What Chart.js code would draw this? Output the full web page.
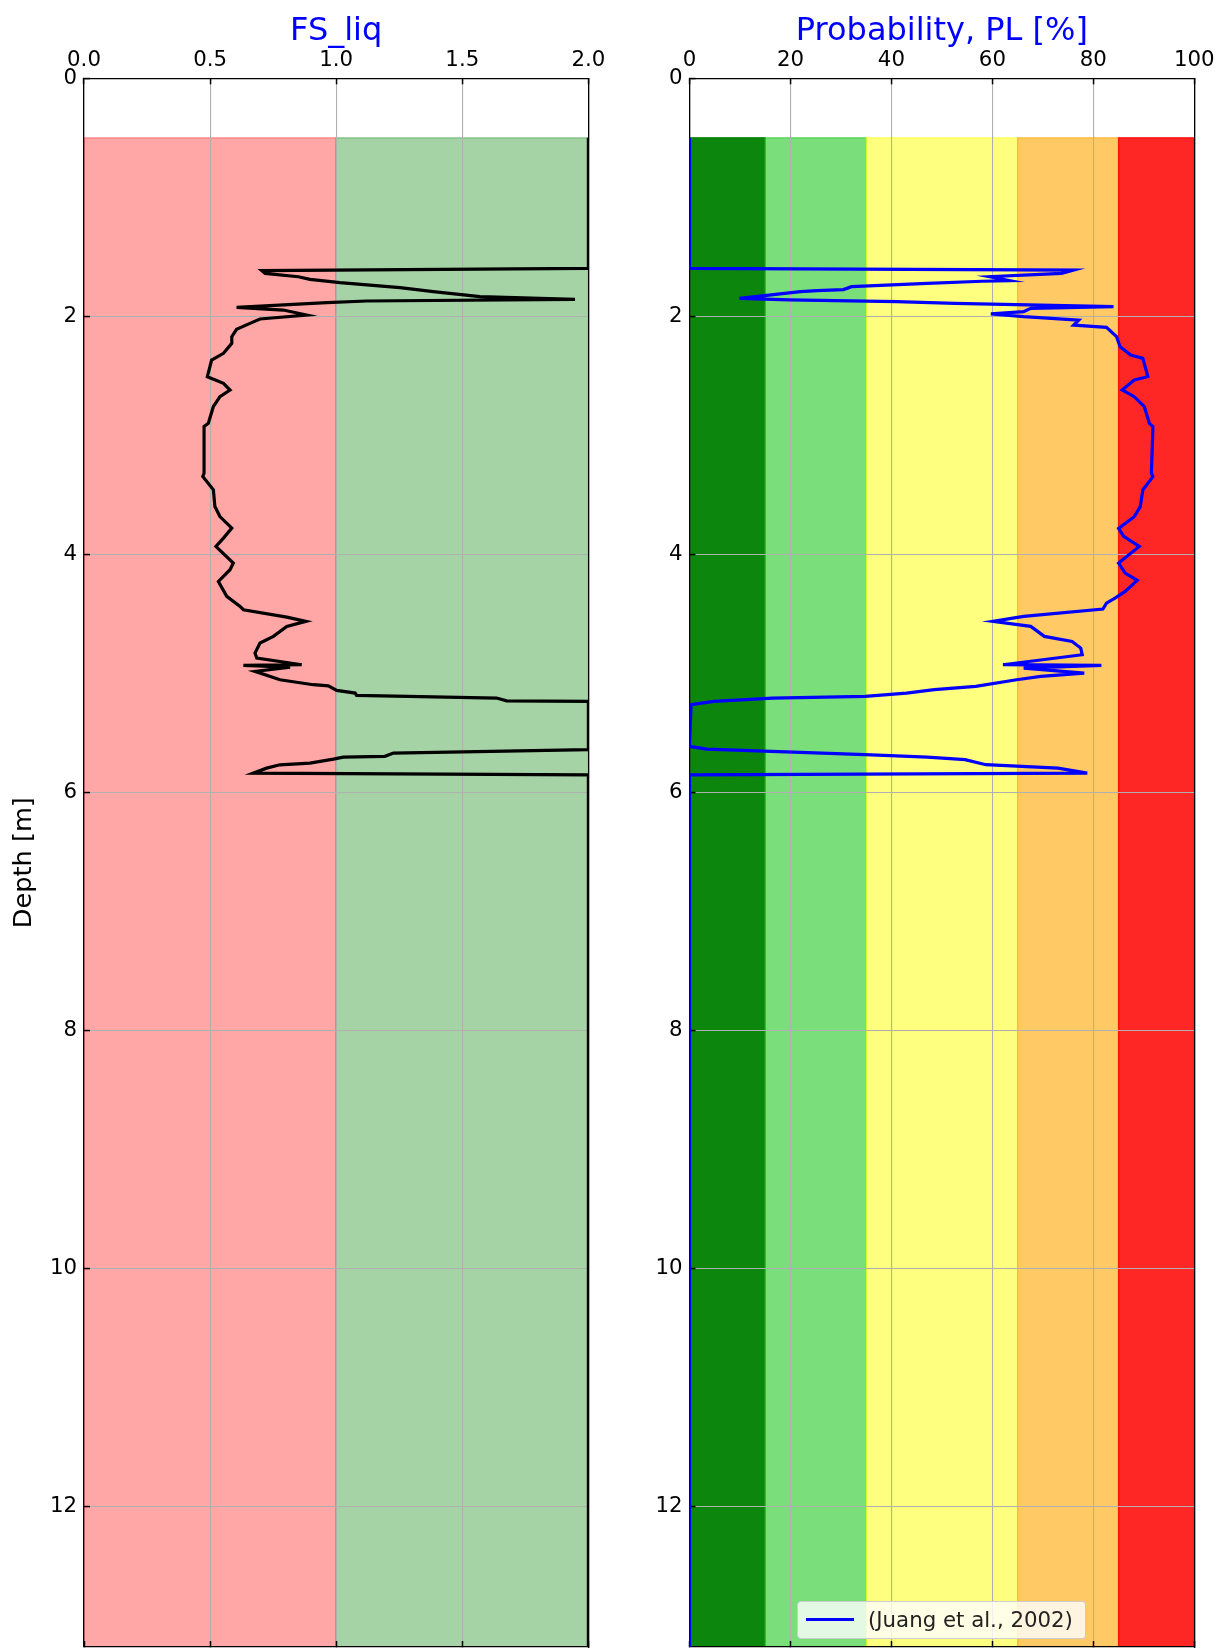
<!DOCTYPE html>
<html>
<head>
<meta charset="utf-8">
<title>FS_liq and PL</title>
<script src="https://cdn.jsdelivr.net/npm/chart.js@4.4.0/dist/chart.umd.min.js"></script>
<style>
  html, body { margin: 0; padding: 0; background: #fff; }
  #wrap { position: relative; width: 1220px; height: 1648px; overflow: hidden; }
  #fsChart { position: absolute; left: 0; top: 0; }
  #plChart { position: absolute; left: 620px; top: 0; }
  .legend {
    position: absolute; left: 797px; top: 1601px; width: 287px; height: 36px;
    background: rgba(255,255,255,0.8); border: 1px solid #cccccc; border-radius: 4px;
    font-family: "DejaVu Sans", sans-serif; font-size: 21.3px; color: #222;
  }
  .legend .handle { position: absolute; left: 8px; top: 16px; width: 48px; height: 3px; background: #0000ff; }
  .legend .label { position: absolute; left: 70px; top: 5px; white-space: nowrap; }
</style>
</head>
<body>
<div id="wrap">
  <canvas id="fsChart" width="620" height="1648"></canvas>
  <canvas id="plChart" width="600" height="1648"></canvas>
  <div class="legend"><span class="handle"></span><span class="label">(Juang et al., 2002)</span></div>
</div>
<script>
// depth range of both panels
const depthMax = 13.18;
const bandTop = 0.5;

// colour zones
const fsBandEdges = [0, 1, 2];
const fsBandColors = ['rgba(255,0,0,0.35)', 'rgba(0,128,0,0.35)'];
const plBandEdges = [0, 15, 35, 65, 85, 100];
const plBandColors = ['rgba(0,128,0,0.95)', 'rgba(50,205,50,0.65)', 'rgba(255,255,0,0.5)',
                      'rgba(255,165,0,0.6)', 'rgba(255,0,0,0.85)'];

// FS_liq profile (depth in m)
const fsDepth = [0.5, 1.597, 1.616, 1.639, 1.667, 1.689, 1.717, 1.759, 1.793, 1.835, 1.857, 1.871,
  1.885, 1.924, 1.947, 1.989, 2.022, 2.059, 2.109, 2.171, 2.227, 2.311, 2.367, 2.507, 2.563, 2.619,
  2.675, 2.758, 2.898, 2.926, 3.318, 3.346, 3.458, 3.598, 3.682, 3.779, 3.863, 3.933, 4.073, 4.129,
  4.227, 4.353, 4.437, 4.465, 4.527, 4.563, 4.605, 4.689, 4.745, 4.829, 4.871, 4.927, 4.933, 4.947,
  4.983, 5.053, 5.095, 5.104, 5.143, 5.165, 5.185, 5.207, 5.230, 5.235, 5.641, 5.669, 5.697, 5.703,
  5.720, 5.754, 5.768, 5.796, 5.838, 5.852, 13.18];
const fsValues = [2.0, 2.0, 0.705, 0.718, 0.85, 0.896, 1.015, 1.253, 1.385, 1.570, 1.947, 1.121,
  0.962, 0.605, 0.79, 0.883, 0.698, 0.658, 0.605, 0.586, 0.586, 0.553, 0.506, 0.489, 0.553, 0.579,
  0.539, 0.513, 0.493, 0.476, 0.476, 0.471, 0.513, 0.519, 0.539, 0.586, 0.553, 0.523, 0.592, 0.579,
  0.533, 0.566, 0.619, 0.632, 0.804, 0.880, 0.804, 0.751, 0.698, 0.678, 0.685, 0.863, 0.632, 0.817,
  0.678, 0.777, 0.909, 0.969, 1.002, 1.075, 1.081, 1.636, 1.676, 2.0, 2.0, 1.227, 1.193, 1.028,
  0.989, 0.896, 0.777, 0.724, 0.671, 2.0, 2.0];

// probability of liquefaction profile
const plDepth = [0.5, 1.597, 1.611, 1.639, 1.667, 1.700, 1.705, 1.723, 1.751, 1.775, 1.784, 1.793,
  1.849, 1.862, 1.877, 1.891, 1.919, 1.933, 1.961, 1.980, 2.003, 2.031, 2.073, 2.092, 2.171, 2.255,
  2.325, 2.353, 2.507, 2.535, 2.619, 2.675, 2.759, 2.899, 2.927, 3.319, 3.347, 3.459, 3.599, 3.683,
  3.782, 3.849, 3.933, 4.073, 4.157, 4.218, 4.311, 4.367, 4.409, 4.459, 4.521, 4.563, 4.605, 4.689,
  4.731, 4.787, 4.843, 4.927, 4.933, 4.955, 4.997, 5.025, 5.053, 5.109, 5.137, 5.165, 5.193, 5.207,
  5.235, 5.263, 5.613, 5.636, 5.683, 5.703, 5.725, 5.767, 5.796, 5.838, 5.852, 13.18];
const plValues = [0, 0, 76.1, 73.7, 59.5, 63.5, 58.0, 47.1, 32.1, 30.5, 25.3, 22.0,
  9.9, 19.8, 41.0, 52.6, 84.0, 67.6, 66.2, 59.7, 66.2, 77.1, 76.1, 82.6, 84.6, 85.3,
  87.4, 89.8, 90.8, 88.1, 85.7, 88.1, 90.1, 91.1, 91.8, 91.5, 91.8, 89.8, 89.3, 88.1,
  85.0, 86.0, 89.1, 85.0, 86.3, 88.7, 86.3, 84.3, 82.6, 81.9, 66.2, 60.1, 67.6, 70.3,
  75.8, 77.5, 77.8, 62.1, 81.6, 66.2, 78.2, 69.6, 64.8, 56.7, 48.5, 43.0, 34.8, 16.4,
  4.8, 0.3, 0, 3.4, 34.8, 47.1, 54.6, 58.7, 73.0, 78.8, 0, 0];

const fsTicks = [0, 0.5, 1.0, 1.5, 2.0];
const plTicks = [0, 20, 40, 60, 80, 100];

const FONT = '"DejaVu Sans", sans-serif';
const tickFont = { family: FONT, size: 21.3 };
const TICK_IN = -6; // matplotlib style inward ticks

// axvspan-like zones, drawn before the grid so grid lines stay on top
const bandPlugin = {
  id: 'bands',
  beforeDraw(chart, args, opts) {
    const { ctx, chartArea, scales: { x, y } } = chart;
    ctx.save();
    ctx.beginPath();
    ctx.rect(chartArea.left, chartArea.top, chartArea.width, chartArea.height);
    ctx.clip();
    const top = y.getPixelForValue(opts.top);
    const bottom = y.getPixelForValue(y.max);
    opts.colors.forEach((c, i) => {
      const x0 = x.getPixelForValue(opts.edges[i]);
      const x1 = x.getPixelForValue(opts.edges[i + 1]);
      ctx.fillStyle = c;
      ctx.fillRect(x0, top, x1 - x0, bottom - top);
      ctx.strokeStyle = c;
      ctx.lineWidth = 1.3;
      ctx.strokeRect(x0, top, x1 - x0, bottom - top);
    });
    ctx.restore();
  }
};

function toPoints(xs, ys) {
  return xs.map((v, i) => ({ x: v, y: ys[i] }));
}

function noPad(s) {
  s.paddingTop = 0; s.paddingBottom = 0; s.paddingLeft = 0; s.paddingRight = 0;
}

function buildOptions(cfg) {
  const xMin = cfg.xTicks[0];
  const xMax = cfg.xTicks[cfg.xTicks.length - 1];
  const setTicks = s => { s.ticks = cfg.xTicks.map(v => ({ value: v })); };
  return {
    responsive: false,
    animation: false,
    layout: { padding: { left: 0, right: cfg.padRight, top: 0, bottom: 1 } },
    plugins: {
      legend: { display: false },
      tooltip: { enabled: false },
      bands: { edges: cfg.edges, colors: cfg.colors, top: bandTop }
    },
    scales: {
      x: {
        type: 'linear', position: 'top', min: xMin, max: xMax,
        afterBuildTicks: setTicks,
        afterFit: s => { s.height = 78.3; noPad(s); },
        ticks: { color: '#000', font: tickFont, padding: 11, maxRotation: 0, callback: cfg.xFormat },
        grid: { color: '#b0b0b0', lineWidth: 1.1, drawTicks: true, tickLength: TICK_IN,
                tickColor: '#000', tickWidth: 1.5 },
        border: { color: '#000', width: 1.3 },
        title: { display: true, text: cfg.title, color: '#0000ff',
                 font: { family: FONT, size: 32 }, padding: { top: 12, bottom: 0 } }
      },
      y: {
        type: 'linear', position: 'left', reverse: true, min: 0, max: depthMax,
        afterFit: s => { s.width = cfg.yWidth; noPad(s); },
        ticks: { stepSize: 2, includeBounds: false, color: '#000', font: tickFont, padding: 13 },
        grid: { color: '#b0b0b0', lineWidth: 1.1, drawTicks: true, tickLength: TICK_IN,
                tickColor: '#000', tickWidth: 1.5 },
        border: { color: '#000', width: 1.3 },
        title: { display: !!cfg.yTitle, text: cfg.yTitle || '', color: '#000',
                 font: { family: FONT, size: 25.6 }, padding: { top: 9, bottom: 0 } }
      },
      x2: {
        type: 'linear', position: 'bottom', min: xMin, max: xMax,
        afterBuildTicks: setTicks,
        afterFit: s => { s.height = 0; noPad(s); },
        ticks: { display: false },
        grid: { color: 'rgba(0,0,0,0)', drawTicks: true, tickLength: TICK_IN,
                tickColor: '#000', tickWidth: 1.5 },
        border: { color: '#000', width: 1.3 }
      },
      y2: {
        type: 'linear', position: 'right',
        afterFit: s => { s.width = 0; noPad(s); },
        ticks: { display: false }, grid: { display: false },
        border: { color: '#000', width: 1.3 }
      }
    }
  };
}

new Chart(document.getElementById('fsChart'), {
  type: 'scatter',
  data: {
    datasets: [{
      label: 'FS_liq',
      data: toPoints(fsValues, fsDepth),
      showLine: true, borderColor: '#000000', borderWidth: 3.2,
      pointRadius: 0, tension: 0, xAxisID: 'x', yAxisID: 'y'
    }]
  },
  options: buildOptions({
    padRight: 31.6, yWidth: 84, title: 'FS_liq', yTitle: 'Depth [m]',
    xTicks: fsTicks, xFormat: v => Number(v).toFixed(1),
    edges: fsBandEdges, colors: fsBandColors
  }),
  plugins: [bandPlugin]
});

new Chart(document.getElementById('plChart'), {
  type: 'scatter',
  data: {
    datasets: [{
      label: '(Juang et al., 2002)',
      data: toPoints(plValues, plDepth),
      showLine: true, borderColor: '#0000ff', borderWidth: 3.2,
      pointRadius: 0, tension: 0, xAxisID: 'x', yAxisID: 'y'
    }]
  },
  options: buildOptions({
    padRight: 25.7, yWidth: 69.5, title: 'Probability, PL [%]', yTitle: null,
    xTicks: plTicks, xFormat: v => String(v),
    edges: plBandEdges, colors: plBandColors
  }),
  plugins: [bandPlugin]
});
</script>
</body>
</html>
